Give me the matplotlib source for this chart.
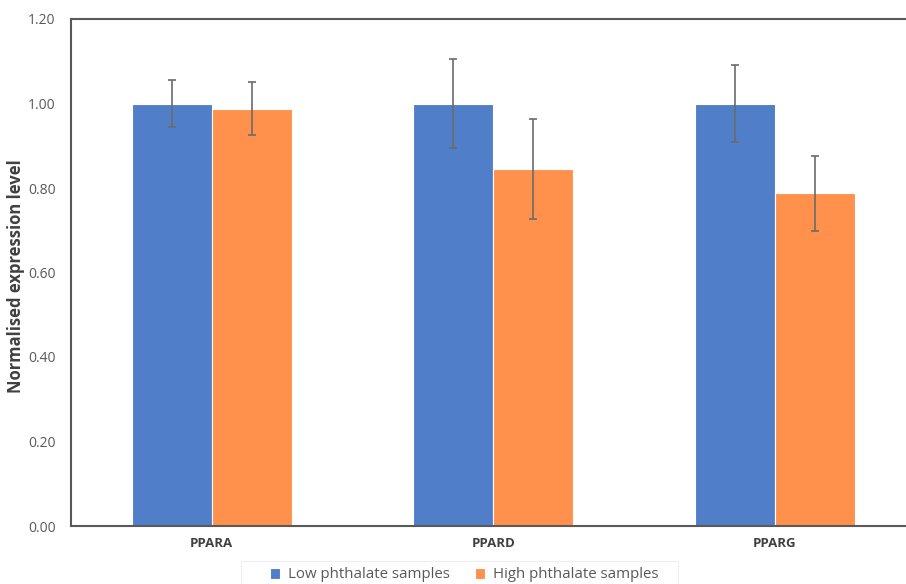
import matplotlib
matplotlib.use("Agg")
import matplotlib.pyplot as plt
from matplotlib.patches import Rectangle
import numpy as np

categories = ["PPARA", "PPARD", "PPARG"]
low_values = [1.00, 1.00, 1.00]
high_values = [0.988, 0.845, 0.787]
low_err = [0.055, 0.105, 0.092]
high_err = [0.063, 0.118, 0.089]
series_names = ["Low phthalate samples", "High phthalate samples"]
yticks = [0.0, 0.2, 0.4, 0.6, 0.8, 1.0, 1.2]

plt.rcParams['font.family'] = ['Open Sans', 'DejaVu Sans']

W, H = 906, 584
fig = plt.figure(figsize=(W / 100, H / 100), dpi=100)
left, right, top, bottom = 71, 915.5, 19, 526
ax = fig.add_axes([left / W, 1 - bottom / H, (right - left) / W, (bottom - top) / H])

x = np.arange(len(categories))
bw = 0.284
blue = "#507EC8"
orange = "#FF914D"
ekw = dict(ecolor="#6b6b6b", elinewidth=1.2, capsize=3, capthick=1.2)
ax.bar(x - bw / 2, low_values, bw, color=blue, edgecolor="white", linewidth=0.8,
       yerr=low_err, error_kw=ekw, label=series_names[0], zorder=2)
ax.bar(x + bw / 2, high_values, bw, color=orange, edgecolor="white", linewidth=0.8,
       yerr=high_err, error_kw=ekw, label=series_names[1], zorder=2)

ax.set_xlim(-0.5, 2.5)
ax.set_ylim(0, 1.2)
ax.set_yticks(yticks)
ax.set_yticklabels([f"{v:.2f}" for v in yticks], fontsize=10, color="#595959")
ax.set_xticks(x)
ax.set_xticklabels(categories, fontsize=9.5, fontweight="bold", color="#404040")
ax.tick_params(axis="both", length=0)
ax.tick_params(axis="y", pad=11)
ax.tick_params(axis="x", pad=8)
for s in ax.spines.values():
    s.set_color("#595959")
    s.set_linewidth(1.5)

fig.text(16 / W, 1 - 276 / H, "Normalised expression level", rotation=90,
         ha="center", va="center", fontsize=12, fontweight="bold", color="#404040")

fig.patches.append(Rectangle((241 / W, 0), (678 - 241) / W, (584 - 561) / H,
                             transform=fig.transFigure, facecolor="white",
                             edgecolor="#eeeeee", linewidth=0.8, zorder=0))
leg = fig.legend(loc="center", bbox_to_anchor=(464 / W, 1 - 575 / H), ncol=2,
                 frameon=False, fontsize=10.8, handlelength=0.7, handleheight=0.7,
                 handletextpad=0.5, columnspacing=1.7, borderpad=0.3,
                 labelcolor="#595959")

fig.savefig("out.png", dpi=100)
